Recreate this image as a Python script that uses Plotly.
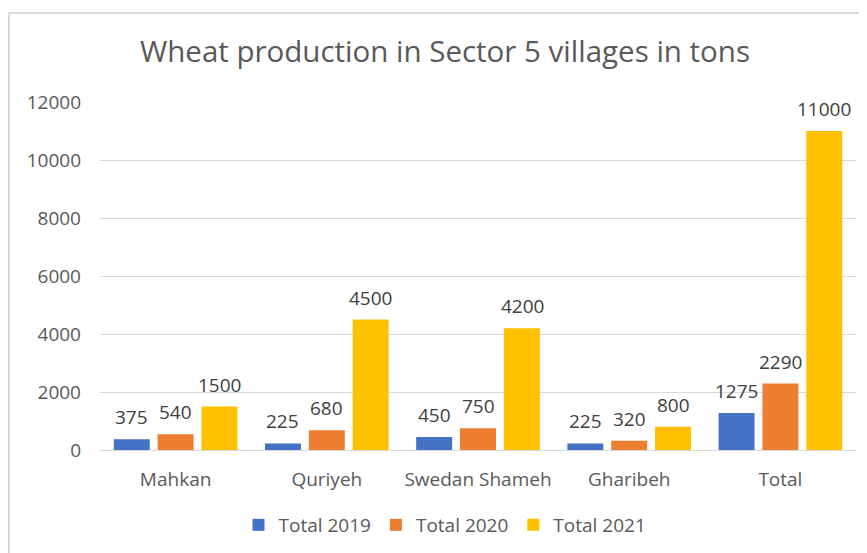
import plotly.graph_objects as go

categories = ["Mahkan", "Quriyeh", "Swedan Shameh", "Gharibeh", "Total"]
series_names = ["Total 2019", "Total 2020", "Total 2021"]
total_2019 = [375, 225, 450, 225, 1275]
total_2020 = [540, 680, 750, 320, 2290]
total_2021 = [1500, 4500, 4200, 800, 11000]
y_ticks = [0, 2000, 4000, 6000, 8000, 10000, 12000]

colors = ["#4472C4", "#ED7D31", "#FFC000"]
FONT = "Open Sans"
W, H = 867, 553
OFF = 8  # page body margin offset
px_left, px_right, px_top, px_bottom = 100 - OFF, 856 - OFF, 102 - OFF, 450 - OFF

fig = go.Figure()
all_series = [total_2019, total_2020, total_2021]
for name, vals, col in zip(series_names, all_series, colors):
    fig.add_trace(go.Bar(x=categories, y=vals, name=name, marker_color=col,
                         marker_line_width=0, hoverinfo="x+y"))

# data labels as annotations (offset above bar like Excel)
shifts = [-44, 0, 44]
for vals, sh in zip(all_series, shifts):
    for c, v in zip(categories, vals):
        fig.add_annotation(x=c, y=v, text=str(v), showarrow=False, xshift=sh,
                           yshift=22, font=dict(family=FONT, size=19, color="#404040"))

fig.update_layout(
    width=W, height=H, autosize=False,
    margin=dict(l=0, r=0, t=0, b=0, autoexpand=False),
    paper_bgcolor="white", plot_bgcolor="white",
    barmode="group", bargap=0.13, bargroupgap=0.18,
    font=dict(family=FONT, color="#595959"),
    title=dict(text="Wheat production in Sector 5 villages in tons",
               x=(445 - OFF) / W, xanchor="center", y=1 - (52 - OFF) / H, yanchor="middle",
               font=dict(family=FONT, size=29.5, color="#595959")),
    xaxis=dict(domain=[px_left / W, px_right / W], showgrid=False, automargin=False,
               showline=True, linecolor="#d9d9d9", linewidth=1, ticks="",
               tickfont=dict(family=FONT, size=19, color="#595959"),
               ticklabelstandoff=12),
    yaxis=dict(domain=[1 - px_bottom / H, 1 - px_top / H], range=[0, 12000],
               tickvals=y_ticks, tickformat="d", automargin=False,
               showgrid=True, gridcolor="#d9d9d9", gridwidth=1,
               zeroline=False, showline=False, ticks="",
               tickfont=dict(family=FONT, size=19, color="#595959"),
               ticklabelstandoff=18),
    legend=dict(orientation="h", x=(445 - OFF) / W, xanchor="center", y=1 - (525 - OFF) / H,
                yanchor="middle", font=dict(family=FONT, size=19, color="#595959"),
                itemwidth=30, tracegroupgap=0),
    shapes=[dict(type="rect", xref="paper", yref="paper",
                 x0=1 / W, x1=1.05, y0=-0.05, y1=1 - (13 - OFF) / H,
                 line=dict(color="#d9d9d9", width=2), layer="below")],
)

fig.write_html("out.html")
